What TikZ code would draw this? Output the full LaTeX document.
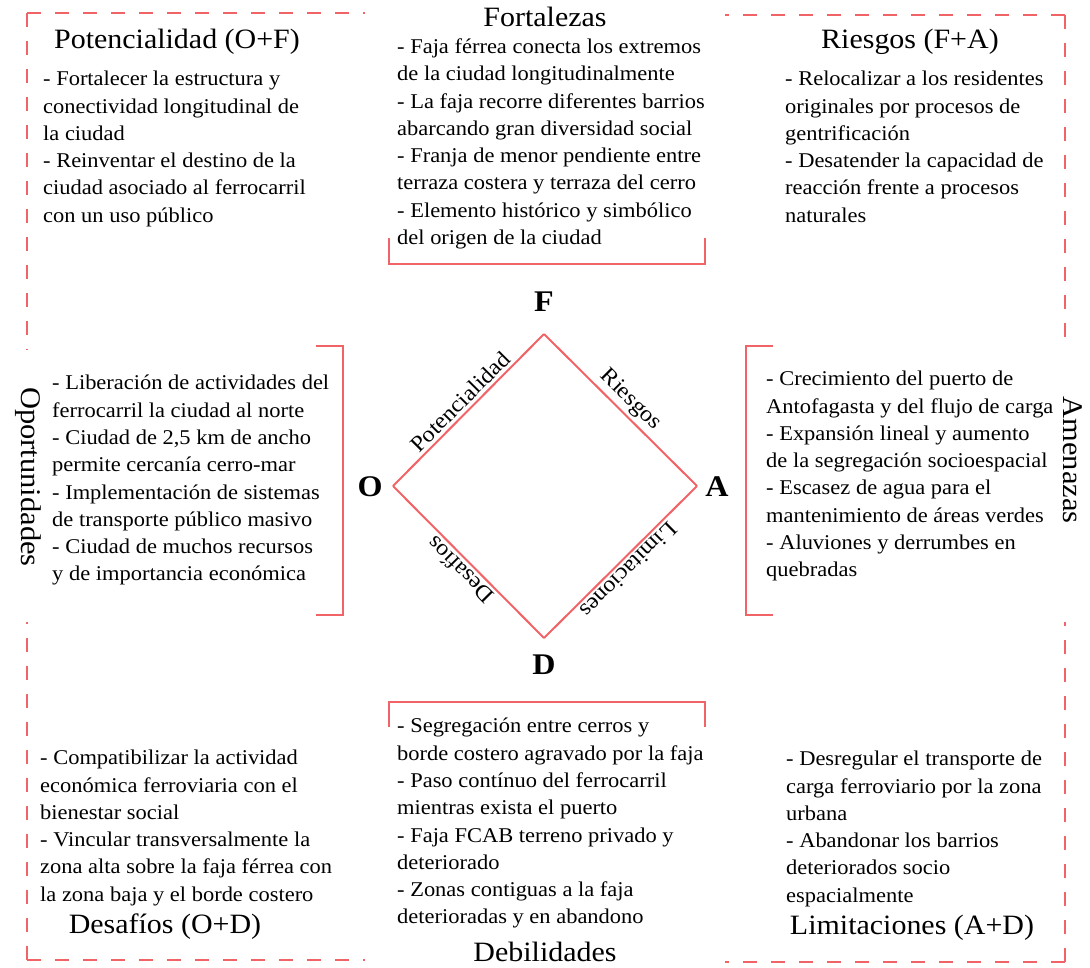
\documentclass[tikz,border=0pt]{standalone}
\usepackage{fontspec}
\setmainfont{Liberation Serif}[FakeStretch=1.07]
\definecolor{swred}{RGB}{240,100,104}
\begin{document}
\begin{tikzpicture}[x=1pt,y=-1pt,
  bodytxt/.style={anchor=north west,inner sep=0pt,align=left,font=\fontsize{21}{27.3}\selectfont},
  titletxt/.style={inner sep=0pt,font=\fontsize{28}{30}\selectfont},
  sidetxt/.style={inner sep=0pt,rotate=-90,font=\fontsize{28.5}{30}\selectfont},
  vertex/.style={inner sep=0pt,font=\fontsize{30}{32}\selectfont\bfseries},
  edgelbl/.style={font=\fontsize{22.5}{24}\selectfont,inner sep=3pt,sloped,allow upside down,above},
  dashline/.style={draw=swred,line width=2.8pt,dash pattern=on 14pt off 14pt},
  bracket/.style={draw=swred,line width=2.6pt},
  diam/.style={draw=swred,line width=2pt}]
\useasboundingbox (0,0) rectangle (1090,967);
% dashed corner frames
\draw[dashline] (27,13) -- (27,350);
\draw[dashline] (27,13) -- (365,13);
\draw[dashline] (1065,15) -- (1065,350);
\draw[dashline] (1065,15) -- (725,15);
\draw[dashline] (27,960) -- (27,622);
\draw[dashline] (27,960) -- (365,960);
\draw[dashline] (1065,962) -- (1065,622);
\draw[dashline] (1065,962) -- (725,962);
% brackets
\draw[bracket] (389,238) -- (389,264) -- (705,264) -- (705,238);
\draw[bracket] (389,727) -- (389,702) -- (705,702) -- (705,727);
\draw[bracket] (316,346) -- (343,346) -- (343,615) -- (316,615);
\draw[bracket] (773,346) -- (746,346) -- (746,615) -- (773,615);
% diamond
\coordinate (vF) at (544,334);
\coordinate (vO) at (393,486);
\coordinate (vA) at (697,486);
\coordinate (vD) at (544,638);
\draw[diam] (vO) -- node[edgelbl] (lP) {Potencialidad} (vF);
\draw[diam] (vF) -- node[edgelbl] (lR) {Riesgos} (vA);
\draw[diam] (vA) -- node[edgelbl] (lL) {Limitaciones} (vD);
\draw[diam] (vD) -- node[edgelbl] (lD) {Desafíos} (vO);
\node[vertex] (nF) at (544,302) {F};
\node[vertex] (nO) at (370,487) {O};
\node[vertex] (nA) at (717,487) {A};
\node[vertex] (nD) at (544,665) {D};
% titles
\node[titletxt] (tFor) at (545,17) {Fortalezas};
\node[titletxt] (tDeb) at (545,952) {Debilidades};
\node[titletxt] (tPot) at (177,42) {Potencialidad (O+F)};
\node[titletxt] (tRie) at (910,42) {Riesgos (F+A)};
\node[titletxt] (tDes) at (165,927) {Desafíos (O+D)};
\node[titletxt] (tLim) at (912,928) {Limitaciones (A+D)};
\node[sidetxt] (tOpo) at (28,477) {Oportunidades};
\node[sidetxt] (tAme) at (1073,460) {Amenazas};
% body texts
\node[bodytxt] (bPot) at (43,71) {- Fortalecer la estructura y\\conectividad longitudinal de\\la ciudad\\- Reinventar el destino de la\\ciudad asociado al ferrocarril\\con un uso público};
\node[bodytxt] (bFor) at (397,38.5) {- Faja férrea conecta los extremos\\de la ciudad longitudinalmente\\- La faja recorre diferentes barrios\\abarcando gran diversidad social\\- Franja de menor pendiente entre\\terraza costera y terraza del cerro\\- Elemento histórico y simbólico\\del origen de la ciudad};
\node[bodytxt] (bRie) at (785,71) {- Relocalizar a los residentes\\originales por procesos de\\gentrificación\\- Desatender la capacidad de\\reacción frente a procesos\\naturales};
\node[bodytxt] (bOpo) at (52,375) {- Liberación de actividades del\\ferrocarril la ciudad al norte\\- Ciudad de 2,5 km de ancho\\permite cercanía cerro-mar\\- Implementación de sistemas\\de transporte público masivo\\- Ciudad de muchos recursos\\y de importancia económica};
\node[bodytxt] (bAme) at (766,371) {- Crecimiento del puerto de\\Antofagasta y del flujo de carga\\- Expansión lineal y aumento\\de la segregación socioespacial\\- Escasez de agua para el\\mantenimiento de áreas verdes\\- Aluviones y derrumbes en\\quebradas};
\node[bodytxt] (bDes) at (40,750) {- Compatibilizar la actividad\\económica ferroviaria con el\\bienestar social\\- Vincular transversalmente la\\zona alta sobre la faja férrea con\\la zona baja y el borde costero};
\node[bodytxt] (bDeb) at (397,718) {- Segregación entre cerros y\\borde costero agravado por la faja\\- Paso contínuo del ferrocarril\\mientras exista el puerto\\- Faja FCAB terreno privado y\\deteriorado\\- Zonas contiguas a la faja\\deterioradas y en abandono};
\node[bodytxt] (bLim) at (786,751) {- Desregular el transporte de\\carga ferroviario por la zona\\urbana\\- Abandonar los barrios\\deteriorados socio\\espacialmente};
\end{tikzpicture}
\end{document}
